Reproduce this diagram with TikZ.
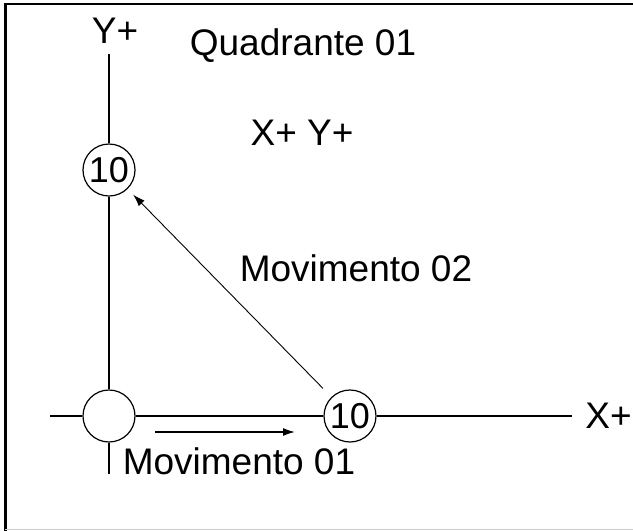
\documentclass[tikz,border=0pt]{standalone}
\usepackage{fontspec}
\setmainfont{Liberation Sans}
\usepackage{tikz}
\usetikzlibrary{arrows.meta,positioning}
\tikzset{
  posbox/.style={draw, circle, minimum size=26pt, inner sep=0pt, line width=0.6pt, font=\fontsize{18}{20}\selectfont},
  lbl/.style={inner sep=0pt, font=\fontsize{18.5}{22}\selectfont},
  axis/.style={line width=0.6pt},
  movearrow/.style={-{Latex[length=6pt, width=4pt]}, line width=0.8pt},
  thinarrow/.style={-{Latex[length=6pt, width=4pt]}, line width=0.45pt}
}
\begin{document}
\begin{tikzpicture}[x=0.5pt, y=-0.5pt]
  \useasboundingbox (0,0) rectangle (633,531);
  % frame
  \draw[line width=1.5pt] (5,531) -- (5,4);
  \draw[line width=1pt] (4,4) -- (633,4);
  \draw[gray!40, line width=0.5pt] (5,529.5) -- (633,529.5);

  % positions
  \node[posbox] (orig) at (109,416) {};
  \node[posbox] (p10x) at (350,416) {10};
  \node[posbox] (p10y) at (109,170) {10};

  \coordinate (xstart) at (50,416);
  \coordinate (xend) at (572,416);
  \coordinate (ybot) at (109,474);
  \coordinate (yend) at (109,54);

  % axes
  \draw[axis] (xstart) -- (orig.west);
  \draw[axis] (orig.east) -- (p10x.west);
  \draw[axis] (p10x.east) -- (xend);
  \draw[axis] (ybot) -- (orig.south);
  \draw[axis] (orig.north) -- (p10y.south);
  \draw[axis] (p10y.north) -- (yend);

  \node[lbl, right=6.5pt of xend] (xplus) {X+};
  \node[lbl] (yplus) at (115,31) {Y+};
  \node[lbl] (quad) at (303,46) {Quadrante 01};
  \node[lbl] (xy) at (302,133) {X+ Y+};
  \node[lbl] (mov2) at (356,268) {Movimento 02};
  \node[lbl] (mov1) at (239,461) {Movimento 01};

  % movements
  \coordinate (m1a) at (155,432);
  \coordinate (m1b) at (295,432);
  \draw[movearrow] (m1a) -- (m1b);
  \draw[thinarrow, shorten <=6pt, shorten >=4pt] (p10x) -- (p10y);
\end{tikzpicture}
\end{document}
